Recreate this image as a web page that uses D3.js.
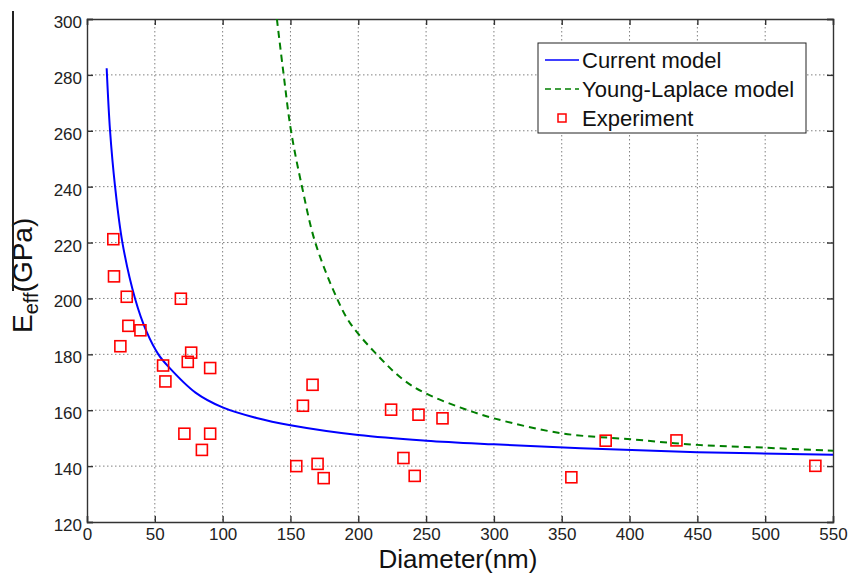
<!DOCTYPE html>
<html>
<head>
<meta charset="utf-8">
<script src="https://cdn.jsdelivr.net/npm/d3@7"></script>
<style>
  body { margin: 0; background: #fff; }
  text { font-family: "Liberation Sans", Arial, sans-serif; }
</style>
</head>
<body>
<svg id="chart"></svg>
<script>
// Values
const xTicks = [0, 50, 100, 150, 200, 250, 300, 350, 400, 450, 500, 550];
const yTicks = [120, 140, 160, 180, 200, 220, 240, 260, 280, 300];

// Current model (blue solid line)
const currentD = [14.5, 17, 20.7, 26.1, 35.4, 44, 52.6, 60, 80, 100, 125, 150, 200, 250, 300, 364, 450, 550];
const currentE = [282.4, 260, 240, 220, 200, 188, 180, 175.6, 166.3, 161, 157.2, 154.6, 151.1, 149.1, 147.8, 146.4, 145.0, 144.1];

// Young-Laplace model (green dashed line)
const ylD = [140, 145, 150.4, 158.5, 168.3, 184.3, 194.2, 216.3, 233.5, 249.5, 275, 300, 350.5, 400.9, 450, 499.3, 550];
const ylE = [300, 280, 260, 240, 220, 200, 191.0, 178.6, 170.8, 166.1, 161, 157.1, 151.7, 149.6, 147.6, 146.6, 145.5];

// Experiment (red squares)
const expD = [19.4, 19.9, 29.3, 30.5, 39.4, 24.6, 69.2, 76.8, 74.3, 90.8, 56.1, 57.8,
              71.8, 90.8, 84.7, 154.3, 166.3, 159.2, 170.0, 174.5, 224.2, 244.4, 262.1,
              233.3, 241.6, 357.1, 382.4, 434.6, 537];
const expE = [221.2, 207.9, 200.6, 190.2, 188.6, 182.9, 199.9, 180.6, 177.3, 175.1, 176.0, 170.3,
              151.6, 151.6, 145.8, 140.0, 169.1, 161.6, 140.8, 135.7, 160.2, 158.4, 157.1,
              142.9, 136.5, 136.0, 149.1, 149.2, 140.1];

const W = 848, H = 575;
const margin = {top: 19, right: 15, bottom: 53, left: 87};
const width = W - margin.left - margin.right;
const height = H - margin.top - margin.bottom;

const svg = d3.select('#chart')
    .attr('width', W)
    .attr('height', H);

const g = svg.append('g')
    .attr('transform', `translate(${margin.left},${margin.top})`);

// Scales
const x = d3.scaleLinear().domain([0, 550]).range([0, width]);
const y = d3.scaleLinear().domain([120, 300]).range([height, 0]);

// Grid (dotted)
g.append('g')
    .selectAll('line')
    .data(xTicks.slice(1, -1))
    .enter()
    .append('line')
    .attr('x1', d => x(d)).attr('x2', d => x(d))
    .attr('y1', 0).attr('y2', height)
    .attr('stroke', '#808080')
    .attr('stroke-width', 1)
    .attr('stroke-dasharray', '1.5,2.5');

g.append('g')
    .selectAll('line')
    .data(yTicks.slice(1, -1))
    .enter()
    .append('line')
    .attr('x1', 0).attr('x2', width)
    .attr('y1', d => y(d)).attr('y2', d => y(d))
    .attr('stroke', '#808080')
    .attr('stroke-width', 1)
    .attr('stroke-dasharray', '1.5,2.5');

// Axes with inward ticks (MATLAB style box)
const tickLen = 6;
const axisColor = '#333';

const xAxis = g.append('g')
    .attr('transform', `translate(0,${height})`)
    .call(d3.axisBottom(x).tickValues(xTicks).tickSize(-tickLen).tickPadding(6).tickFormat(d3.format('d')));
const xAxisTop = g.append('g')
    .call(d3.axisTop(x).tickValues(xTicks).tickSize(-tickLen).tickFormat(''));
const yAxis = g.append('g')
    .call(d3.axisLeft(y).tickValues(yTicks).tickSize(-tickLen).tickPadding(5).tickFormat(d3.format('d')));
const yAxisRight = g.append('g')
    .attr('transform', `translate(${width},0)`)
    .call(d3.axisRight(y).tickValues(yTicks).tickSize(-tickLen).tickFormat(''));

[xAxis, xAxisTop, yAxis, yAxisRight].forEach(a => {
    a.select('.domain').attr('stroke', axisColor).attr('stroke-width', 1.4);
    a.selectAll('.tick line').attr('stroke', axisColor).attr('stroke-width', 1.4);
    a.selectAll('text')
        .style('font-family', '"Liberation Sans", Arial, sans-serif')
        .style('font-size', '17px')
        .attr('fill', '#222');
});
yAxis.selectAll('text').attr('dy', '0.5em');

// Lines
const line = d3.line()
    .x(d => x(d[0]))
    .y(d => y(d[1]))
    .curve(d3.curveCatmullRom.alpha(0.5));

g.append('path')
    .datum(d3.zip(currentD, currentE))
    .attr('d', line)
    .attr('fill', 'none')
    .attr('stroke', '#0000ff')
    .attr('stroke-width', 2);

g.append('path')
    .datum(d3.zip(ylD, ylE))
    .attr('d', line)
    .attr('fill', 'none')
    .attr('stroke', '#007f00')
    .attr('stroke-width', 2)
    .attr('stroke-dasharray', '7,5');

// Experiment points
const sq = 11;
g.selectAll('.pt')
    .data(d3.zip(expD, expE))
    .enter()
    .append('rect')
    .attr('class', 'pt')
    .attr('x', d => x(d[0]) - sq / 2)
    .attr('y', d => y(d[1]) - sq / 2)
    .attr('width', sq)
    .attr('height', sq)
    .attr('fill', 'none')
    .attr('stroke', '#ff0000')
    .attr('stroke-width', 1.6);

// Legend
const legend = svg.append('g').attr('transform', 'translate(538,43)');
legend.append('rect')
    .attr('width', 268).attr('height', 90)
    .attr('fill', '#fff')
    .attr('stroke', '#222')
    .attr('stroke-width', 1);

const legendItems = [
    {label: 'Current model', type: 'solid', color: '#0000ff'},
    {label: 'Young-Laplace model', type: 'dash', color: '#007f00'},
    {label: 'Experiment', type: 'square', color: '#ff0000'}
];
legendItems.forEach((item, i) => {
    const cy = 17 + i * 29;
    if (item.type === 'square') {
        legend.append('rect')
            .attr('x', 24 - 4).attr('y', cy - 4)
            .attr('width', 8).attr('height', 8)
            .attr('fill', 'none')
            .attr('stroke', item.color)
            .attr('stroke-width', 1.5);
    } else {
        legend.append('line')
            .attr('x1', 7).attr('x2', 41)
            .attr('y1', cy).attr('y2', cy)
            .attr('stroke', item.color)
            .attr('stroke-width', 1.5)
            .attr('stroke-dasharray', item.type === 'dash' ? '6,4' : null);
    }
    legend.append('text')
        .attr('x', 44)
        .attr('y', cy + 8)
        .style('font-size', '22px')
        .attr('fill', '#111')
        .text(item.label);
});

// Axis labels
svg.append('text')
    .attr('x', margin.left + width / 2 - 2)
    .attr('y', 568)
    .attr('text-anchor', 'middle')
    .style('font-size', '26px')
    .attr('fill', '#111')
    .text('Diameter(nm)');

const yLab = svg.append('text')
    .attr('transform', 'translate(32,333) rotate(-90)')
    .style('font-size', '28px')
    .attr('fill', '#111');
yLab.append('tspan').text('E');
yLab.append('tspan').attr('dy', 6).style('font-size', '20px').text('eff');
yLab.append('tspan').attr('dy', -6).text('(GPa)');

// overbar drawn by the original label
svg.append('line')
    .attr('x1', 13).attr('x2', 13)
    .attr('y1', 11).attr('y2', 291)
    .attr('stroke', '#222')
    .attr('stroke-width', 2);
</script>
</body>
</html>
